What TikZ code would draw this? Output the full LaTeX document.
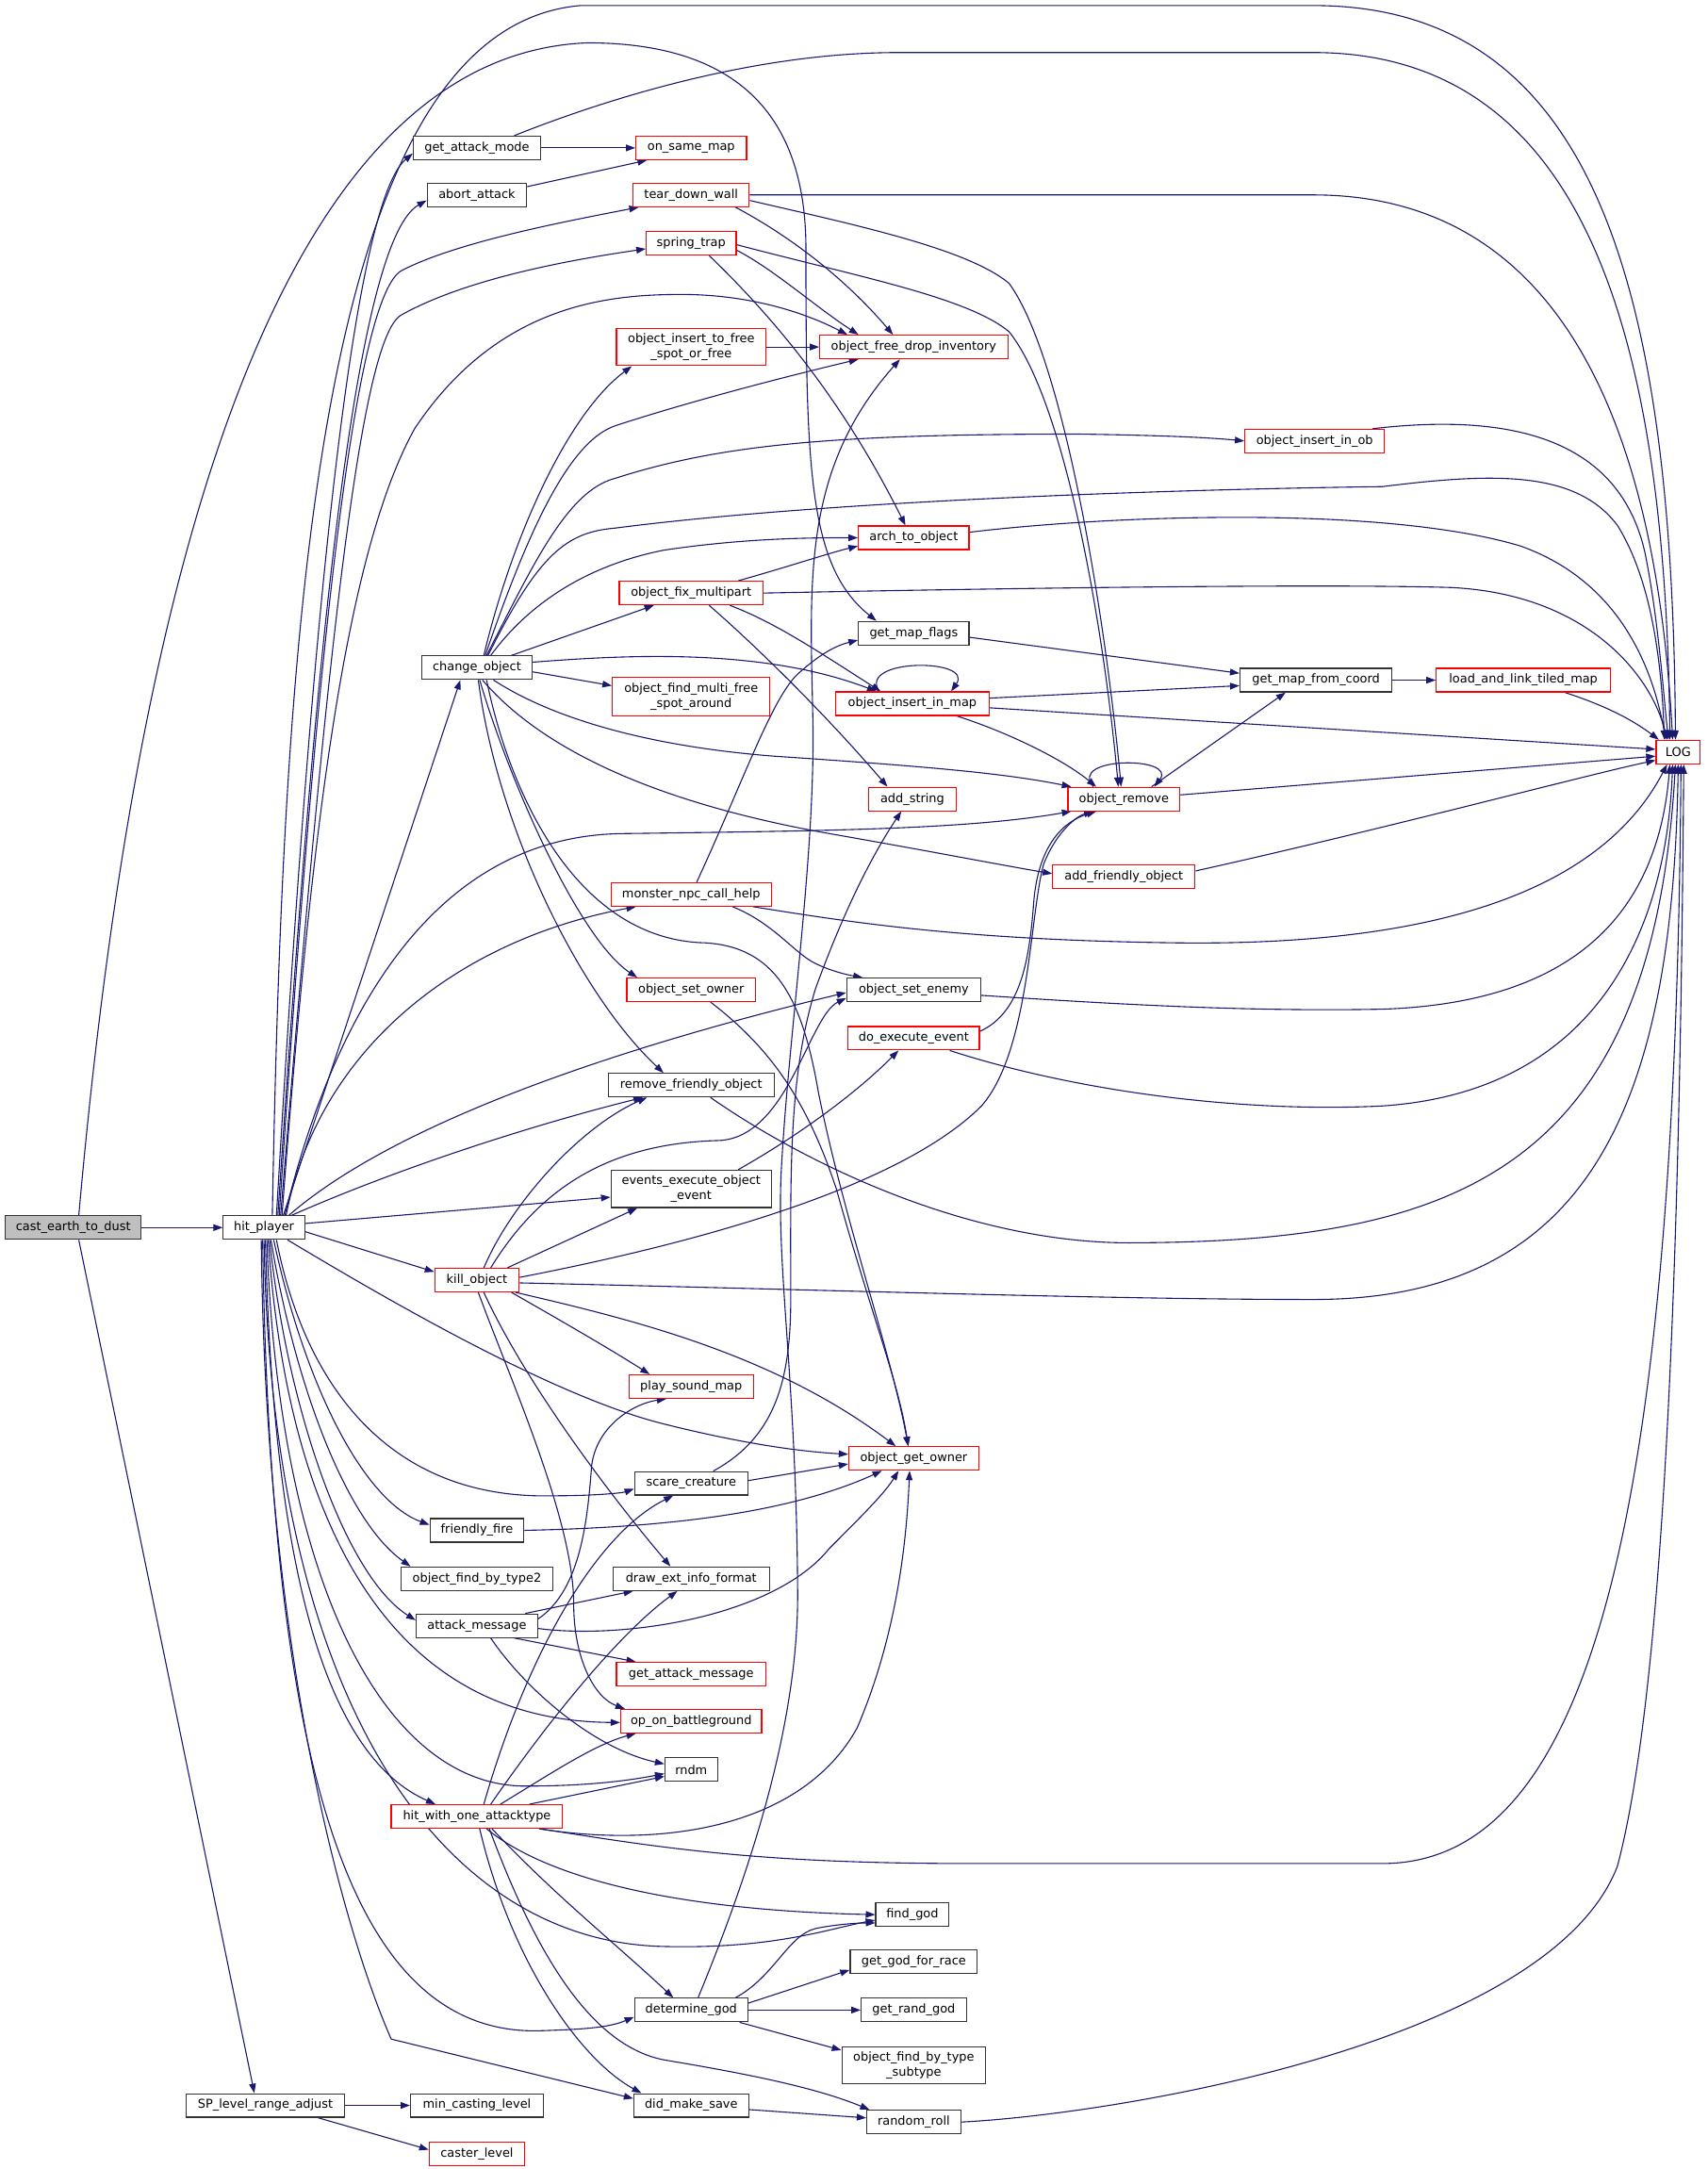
\documentclass[tikz,border=0pt]{standalone}
\usepackage{fontspec}
\usetikzlibrary{arrows.meta}
\newfontfamily\dvs{DejaVu Sans}
\newcommand\nodefont{\dvs\fontsize{8.8}{10.5}\selectfont}
\definecolor{eb}{HTML}{191970}
\definecolor{rdc}{HTML}{FF0000}
\definecolor{bkc}{HTML}{333333}
\definecolor{castgray}{HTML}{BFBFBF}
\pgfdeclarelayer{background}
\pgfsetlayers{background,main}
\tikzset{
  nd/.style={draw, fill=white, line width=0.8pt, minimum height=17pt, inner sep=0pt, font=\nodefont, align=center},
  rd/.style={nd, draw=rdc},
  bk/.style={nd, draw=bkc},
  e/.style={draw=eb, line width=0.75pt, -{Triangle[length=6.8pt,width=4.8pt]}}
}
\begin{document}
\begin{tikzpicture}[x=1pt,y=-1pt]
\useasboundingbox (0,0) rectangle (1235,1569);
% nodes
\node[bk,fill=castgray,minimum width=98pt] (cast) at (53,888) {cast\_earth\_to\_dust};
\node[bk,minimum width=59pt] (hit) at (191,888) {hit\_player};
\node[bk,minimum width=115pt] (splra) at (192,1523) {SP\_level\_range\_adjust};
\node[bk,minimum width=92pt] (gam) at (345,107) {get\_attack\_mode};
\node[rd,minimum width=80pt] (osm) at (500,107) {on\_same\_map};
\node[bk,minimum width=72pt] (abort) at (345,141) {abort\_attack};
\node[rd,minimum width=84pt] (tdw) at (500,141) {tear\_down\_wall};
\node[rd,minimum width=65pt] (spring) at (500,176) {spring\_trap};
\node[rd,minimum width=108pt,minimum height=27pt] (oitf) at (500,251) {object\_insert\_to\_free\\\_spot\_or\_free};
\node[rd,minimum width=136pt] (ofdi) at (661,251) {object\_free\_drop\_inventory};
\node[rd,minimum width=101pt] (oiio) at (951,319) {object\_insert\_in\_ob};
\node[rd,minimum width=80pt] (ato) at (661,389) {arch\_to\_object};
\node[rd,minimum width=104pt] (ofm) at (500,429) {object\_fix\_multipart};
\node[bk,minimum width=80pt] (gmf) at (661,458) {get\_map\_flags};
\node[bk,minimum width=80pt] (co) at (345,483) {change\_object};
\node[rd,minimum width=114pt,minimum height=28pt] (ofmfsa) at (500,504) {object\_find\_multi\_free\\\_spot\_around};
\node[rd,minimum width=111pt] (oiim) at (660,509) {object\_insert\_in\_map};
\node[bk,minimum width=110pt] (gmfc) at (952,492) {get\_map\_from\_coord};
\node[rd,minimum width=126pt] (laltm) at (1102,492) {load\_and\_link\_tiled\_map};
\node[rd,minimum width=32pt] (log) at (1214,544) {LOG};
\node[rd,minimum width=63pt] (adds) at (660,578) {add\_string};
\node[rd,minimum width=81pt] (orm) at (813,578) {object\_remove};
\node[rd,minimum width=103pt] (afo) at (813,634) {add\_friendly\_object};
\node[rd,minimum width=116pt] (mnch) at (500,647) {monster\_npc\_call\_help};
\node[rd,minimum width=93pt] (oso) at (500,716) {object\_set\_owner};
\node[bk,minimum width=97pt] (ose) at (661,716) {object\_set\_enemy};
\node[rd,minimum width=95pt] (dee) at (661,751) {do\_execute\_event};
\node[bk,minimum width=120pt] (rfo) at (500,785) {remove\_friendly\_object};
\node[bk,minimum width=116pt,minimum height=27pt] (eeoe) at (500,860) {events\_execute\_object\\\_event};
\node[rd,minimum width=61pt] (ko) at (345,926) {kill\_object};
\node[rd,minimum width=90pt] (psm) at (500,1003) {play\_sound\_map};
\node[rd,minimum width=94pt] (ogo) at (661,1055) {object\_get\_owner};
\node[bk,minimum width=82pt] (sc) at (500,1073) {scare\_creature};
\node[bk,minimum width=68pt] (ff) at (345,1107) {friendly\_fire};
\node[bk,minimum width=110pt] (ofbt2) at (345,1142) {object\_find\_by\_type2};
\node[bk,minimum width=113pt] (deif) at (500,1142) {draw\_ext\_info\_format};
\node[bk,minimum width=88pt] (am) at (345,1176) {attack\_message};
\node[rd,minimum width=108pt] (gatm) at (500,1211) {get\_attack\_message};
\node[rd,minimum width=102pt] (oob) at (500,1245) {op\_on\_battleground};
\node[bk,minimum width=38pt] (rndm) at (500,1280) {rndm};
\node[rd,minimum width=124pt] (hwoa) at (345,1314) {hit\_with\_one\_attacktype};
\node[bk,minimum width=53pt] (fg) at (660,1385) {find\_god};
\node[bk,minimum width=92pt] (ggfr) at (661,1419) {get\_god\_for\_race};
\node[bk,minimum width=82pt] (dg) at (500,1454) {determine\_god};
\node[bk,minimum width=76pt] (grg) at (661,1454) {get\_rand\_god};
\node[bk,minimum width=104pt,minimum height=27pt] (ofbts) at (661,1494) {object\_find\_by\_type\\\_subtype};
\node[bk,minimum width=83pt] (dms) at (500,1523) {did\_make\_save};
\node[bk,minimum width=96pt] (mcl) at (345,1523) {min\_casting\_level};
\node[bk,minimum width=68pt] (rr) at (661,1535) {random\_roll};
\node[rd,minimum width=69pt] (cl) at (345,1558) {caster\_level};

\begin{pgfonlayer}{background}
\fill[white] (0,0) rectangle (1235,1569);
% cast_earth_to_dust
\draw[e] (cast.east) -- (hit.west);
\draw[e] ([xshift=4pt]cast.south) -- ([xshift=-8pt]splra.north);
\draw[e] ([xshift=4pt]cast.north) .. controls (95,450) and (190,40) .. (425,31) .. controls (540,31) and (583,90) .. (583,180) .. controls (583,340) and (585,410) .. ([xshift=-27pt]gmf.north);
% hit_player
\draw[e] ([xshift=6pt]hit.north) .. controls (205,450) and (230,20) .. (420,4) -- (950,4) .. controls (1150,4) and (1210,200) .. ([xshift=-2pt]log.north);
\draw[e] ([xshift=9pt]hit.north) .. controls (222,500) and (252,150) .. ([yshift=-4pt]gam.west);
\draw[e] ([xshift=10pt]hit.north) .. controls (226,500) and (255,175) .. ([yshift=-4pt]abort.west);
\draw[e] ([xshift=11pt]hit.north) .. controls (232,420) and (260,215) .. (290,196) .. controls (330,175) and (410,160) .. ([xshift=-38pt]tdw.south);
\draw[e] ([xshift=12pt]hit.north) .. controls (238,450) and (262,245) .. (290,228) .. controls (340,200) and (420,187) .. ([yshift=-4pt]spring.west);
\draw[e] ([xshift=13pt]hit.north) .. controls (225,600) and (250,400) .. (300,310) .. controls (360,220) and (440,213) .. (493,213) .. controls (540,213) and (580,225) .. ([xshift=-48pt]ofdi.north);
\draw[e] ([xshift=14pt]hit.north) -- ([xshift=-12pt]co.south);
\draw[e] ([xshift=15pt]hit.north) .. controls (235,760) and (300,605) .. (450,603) .. controls (600,601) and (700,600) .. ([xshift=-38pt]orm.south);
\draw[e] ([xshift=16pt]hit.north) .. controls (230,760) and (330,680) .. ([xshift=-40pt]mnch.south);
\draw[e] ([xshift=18pt]hit.north) .. controls (300,800) and (500,745) .. ([yshift=-2pt]ose.west);
\draw[e] ([xshift=20pt]hit.north) .. controls (300,840) and (400,810) .. ([xshift=-35pt]rfo.south);
\draw[e] ([yshift=3pt]hit.east) -- ([yshift=-6pt]eeoe.west);
\draw[e] ([yshift=-3pt]hit.east) -- ([yshift=6pt]ko.west);
\draw[e] ([xshift=17pt]hit.south) .. controls (280,940) and (400,1010) .. (480,1030) .. controls (540,1045) and (580,1050) .. ([yshift=3pt]ogo.west);
\draw[e] ([xshift=9pt]hit.south) .. controls (220,1000) and (280,1085) .. (400,1082) .. controls (430,1082) and (450,1080) .. ([yshift=-4pt]sc.west);
\draw[e] ([xshift=7pt]hit.south) .. controls (220,1000) and (262,1085) .. ([yshift=4pt]ff.west);
\draw[e] ([xshift=5pt]hit.south) .. controls (213,1000) and (250,1100) .. ([xshift=-48pt]ofbt2.north);
\draw[e] ([xshift=4pt]hit.south) .. controls (208,1020) and (250,1140) .. ([yshift=4pt]am.west);
\draw[e] ([xshift=3pt]hit.south) .. controls (208,1100) and (280,1245) .. ([yshift=-1pt]oob.west);
\draw[e] ([xshift=2pt]hit.south) .. controls (202,1150) and (280,1292) .. (380,1292) .. controls (430,1292) and (460,1287) .. ([yshift=-3pt]rndm.west);
\draw[e] ([xshift=1pt]hit.south) .. controls (198,1150) and (240,1272) .. ([xshift=-30pt]hwoa.north);
\draw[e] (hit.south) .. controls (197,1250) and (330,1405) .. (480,1408) .. controls (560,1410) and (600,1395) .. ([yshift=-4pt]fg.west);
\draw[e] ([xshift=-1pt]hit.south) .. controls (196,1300) and (260,1472) .. (390,1469) .. controls (420,1468) and (440,1467) .. ([yshift=-5pt]dg.west);
\draw[e] ([xshift=-2pt]hit.south) .. controls (192,1200) and (250,1400) .. (283,1475) -- ([yshift=5pt]dms.west);
% get_attack_mode, abort_attack
\draw[e] ([xshift=27pt]gam.north) .. controls (430,75) and (540,38) .. (650,38) -- (950,38) .. controls (1150,38) and (1205,250) .. ([xshift=-6pt]log.north);
\draw[e] (gam.east) -- (osm.west);
\draw[e] ([yshift=6pt]abort.east) -- ([xshift=-32pt]osm.south);
% change_object
\draw[e] ([xshift=5pt]co.north) .. controls (370,390) and (410,300) .. ([xshift=-43pt]oitf.south);
\draw[e] ([xshift=6pt]co.north) .. controls (380,390) and (410,320) .. (445,308) .. controls (500,290) and (570,272) .. ([xshift=-40pt]ofdi.south);
\draw[e] ([xshift=7pt]co.north) .. controls (385,410) and (410,355) .. (445,346) .. controls (520,322) and (600,314) .. (780,314) .. controls (850,315) and (880,317) .. (oiio.west);
\draw[e] ([xshift=8pt]co.north) .. controls (390,400) and (410,385) .. (445,382) .. controls (600,362) and (850,354) .. (1000,352) .. controls (1080,342) and (1140,340) .. (1170,380) .. controls (1195,420) and (1202,480) .. ([xshift=-10pt]log.north);
\draw[e] ([xshift=10pt]co.north) .. controls (380,440) and (420,410) .. (480,398) .. controls (540,389) and (590,389) .. (ato.west);
\draw[e] ([xshift=25pt]co.north) -- ([xshift=-27pt]ofm.south);
\draw[e] ([yshift=4pt]co.east) .. controls (450,474) and (550,468) .. ([xshift=-26pt]oiim.north);
\draw[e] ([yshift=-3pt]co.east) -- ([yshift=8pt]ofmfsa.west);
\draw[e] ([xshift=12pt]co.south) .. controls (400,520) and (470,540) .. (560,547) .. controls (680,555) and (730,560) .. ([xshift=-38pt]orm.north);
\draw[e] ([xshift=4pt]co.south) .. controls (390,540) and (470,580) .. (600,603) .. controls (680,617) and (720,625) .. ([yshift=2pt]afo.west);
\draw[e] ([xshift=7pt]co.south) .. controls (370,580) and (420,680) .. (510,682) .. controls (560,685) and (580,720) .. (592,790) .. controls (610,880) and (645,980) .. ([xshift=-4pt]ogo.north);
\draw[e] ([xshift=2pt]co.south) .. controls (370,570) and (420,680) .. ([xshift=-39pt]oso.north);
\draw[e] ([xshift=1pt]co.south) .. controls (360,600) and (420,720) .. ([xshift=-20pt]rfo.north);
% object_fix_multipart
\draw[e] ([xshift=34pt]ofm.north) .. controls (570,410) and (600,400) .. ([yshift=-6pt]ato.west);
\draw[e] (ofm.east) .. controls (700,426) and (950,422) .. (1050,425) .. controls (1150,430) and (1195,490) .. ([xshift=-8pt]log.north);
\draw[e] ([xshift=28pt]ofm.south) .. controls (560,450) and (590,470) .. ([xshift=-23pt]oiim.north);
\draw[e] ([xshift=13pt]ofm.south) .. controls (550,470) and (600,520) .. ([xshift=-18pt]adds.north);
% tear_down_wall, spring_trap, insert_to_free
\draw[e] (tdw.east) -- (950,141) .. controls (1150,141) and (1200,350) .. ([xshift=-4pt]log.north);
\draw[e] ([yshift=-4pt]tdw.east) .. controls (620,163) and (700,180) .. (730,205) .. controls (770,260) and (800,450) .. ([xshift=-2pt]orm.north);
\draw[e] ([xshift=32pt]tdw.south) .. controls (570,170) and (610,200) .. ([xshift=-15pt]ofdi.north);
\draw[e] ([yshift=-1pt]spring.east) .. controls (620,200) and (700,215) .. (730,240) .. controls (770,290) and (798,450) .. ([xshift=-4pt]orm.north);
\draw[e] ([yshift=-5pt]spring.east) .. controls (560,195) and (590,222) .. ([xshift=-40pt]ofdi.north);
\draw[e] ([xshift=13pt]spring.south) .. controls (560,230) and (610,290) .. ([xshift=-6pt]ato.north);
\draw[e] (oitf.east) -- (ofdi.west);
% right part
\draw[e] ([xshift=42pt]oiio.north) .. controls (1080,300) and (1170,310) .. (1190,400) .. controls (1200,450) and (1203,500) .. ([xshift=-7pt]log.north);
\draw[e] ([yshift=4pt]ato.east) .. controls (800,373) and (1000,365) .. (1100,395) .. controls (1170,420) and (1195,480) .. ([xshift=-9pt]log.north);
\draw[e] ([yshift=-3pt]gmf.east) -- ([yshift=5pt]gmfc.west);
\draw[e] ([yshift=4pt]oiim.east) -- ([yshift=-4pt]gmfc.west);
\draw[e] ([yshift=-3pt]oiim.east) -- ([yshift=2pt]log.west);
\draw[e] ([xshift=32pt]oiim.south) .. controls (730,530) and (770,550) .. ([xshift=-20pt]orm.north);
\draw[e] ([xshift=-24pt]oiim.north) .. controls (620,476) and (705,476) .. ([xshift=28pt]oiim.north);
\draw[e] (gmfc.east) -- (laltm.west);
\draw[e] ([xshift=30pt]laltm.south) .. controls (1160,510) and (1180,520) .. ([xshift=-14pt]log.north);
\draw[e] ([xshift=20pt]orm.north) -- ([xshift=-22pt]gmfc.south);
\draw[e] ([xshift=-22pt]orm.north) .. controls (772,547) and (852,547) .. ([xshift=22pt]orm.north);
\draw[e] ([yshift=3pt]orm.east) -- ([yshift=-3pt]log.west);
\draw[e] ([yshift=4pt]afo.east) .. controls (1000,600) and (1150,560) .. ([yshift=-6pt]log.west);
% monster_npc_call_help etc.
\draw[e] ([xshift=4pt]mnch.north) .. controls (540,560) and (560,500) .. (580,485) .. controls (595,472) and (605,467) .. ([yshift=-5pt]gmf.west);
\draw[e] ([xshift=30pt]mnch.south) .. controls (560,668) and (575,690) .. (590,697) .. controls (600,702) and (612,705) .. ([xshift=-37pt]ose.north);
\draw[e] ([xshift=45pt]mnch.south) .. controls (620,668) and (700,680) .. (850,682) .. controls (1000,684) and (1150,660) .. ([xshift=-8pt]log.south);
\draw[e] ([xshift=14pt]oso.south) .. controls (560,760) and (585,800) .. (605,860) .. controls (630,950) and (650,1000) .. ([xshift=-4pt]ogo.north);
\draw[e] ([yshift=-4pt]ose.east) .. controls (800,726) and (900,732) .. (1000,730) .. controls (1150,725) and (1200,650) .. ([xshift=-6pt]log.south);
\draw[e] ([yshift=5pt]dee.east) .. controls (740,732) and (745,690) .. (748,650) .. controls (752,610) and (770,594) .. ([xshift=-20pt]orm.south);
\draw[e] ([xshift=26pt]dee.south) .. controls (780,790) and (900,805) .. (1000,800) .. controls (1150,790) and (1205,680) .. ([xshift=-4pt]log.south);
\draw[e] ([xshift=14pt]rfo.south) .. controls (580,840) and (700,900) .. (820,899) .. controls (1050,898) and (1195,850) .. ([xshift=-2pt]log.south);
\draw[e] ([xshift=34pt]eeoe.north) .. controls (580,820) and (620,790) .. ([xshift=-11pt]dee.south);
% kill_object
\draw[e] ([xshift=5pt]ko.north) .. controls (370,870) and (420,815) .. ([xshift=-32pt]rfo.south);
\draw[e] ([xshift=10pt]ko.north) .. controls (390,860) and (440,827) .. (520,825) .. controls (570,823) and (585,735) .. ([yshift=-6pt]ose.west);
\draw[e] ([xshift=22pt]ko.north) -- ([xshift=-39pt]eeoe.south);
\draw[e] ([yshift=2pt]ko.east) .. controls (500,900) and (650,860) .. (710,800) .. controls (745,760) and (745,660) .. (755,625) .. controls (765,600) and (780,590) .. ([xshift=-22pt]orm.south);
\draw[e] ([yshift=-2pt]ko.east) .. controls (600,933) and (800,940) .. (950,940) .. controls (1150,940) and (1210,800) .. (log.south);
\draw[e] ([xshift=25pt]ko.south) .. controls (400,952) and (440,975) .. ([xshift=-30pt]psm.north);
\draw[e] ([xshift=28pt]ko.south) .. controls (460,955) and (560,980) .. ([xshift=-13pt]ogo.north);
\draw[e] ([xshift=5pt]ko.south) .. controls (380,1000) and (440,1080) .. ([xshift=-15pt]deif.north);
\draw[e] ([xshift=1pt]ko.south) .. controls (370,1000) and (415,1100) .. (415,1160) .. controls (415,1200) and (430,1228) .. ([xshift=-48pt]oob.north);
% attack_message
\draw[e] ([yshift=5pt]am.east) .. controls (420,1150) and (425,1100) .. (428,1060) .. controls (432,1030) and (460,1015) .. ([xshift=-18pt]psm.south);
\draw[e] ([xshift=35pt]am.north) -- ([xshift=-42pt]deif.south);
\draw[e] ([yshift=-2pt]am.east) .. controls (450,1186) and (560,1170) .. (600,1120) .. controls (625,1095) and (640,1080) .. ([xshift=-11pt]ogo.south);
\draw[e] ([xshift=27pt]am.south) -- ([xshift=-40pt]gatm.north);
\draw[e] ([xshift=10pt]am.south) .. controls (380,1222) and (430,1265) .. ([yshift=4pt]rndm.west);
% hit_with_one_attacktype
\draw[e] ([xshift=5pt]hwoa.north) .. controls (380,1200) and (430,1110) .. ([xshift=-13pt]sc.south);
\draw[e] ([xshift=10pt]hwoa.north) .. controls (400,1240) and (450,1180) .. ([xshift=-10pt]deif.south);
\draw[e] ([xshift=17pt]hwoa.north) .. controls (400,1282) and (430,1262) .. ([xshift=-40pt]oob.south);
\draw[e] ([xshift=38pt]hwoa.north) -- ([yshift=-5pt]rndm.west);
\draw[e] ([xshift=45pt]hwoa.south) .. controls (480,1337) and (580,1322) .. (620,1250) .. controls (650,1180) and (656,1110) .. ([xshift=-3pt]ogo.south);
\draw[e] ([xshift=46pt]hwoa.south) .. controls (480,1337) and (550,1348) .. (700,1348) -- (1000,1348) .. controls (1150,1348) and (1212,1100) .. ([xshift=2pt]log.south);
\draw[e] ([xshift=7pt]hwoa.south) .. controls (400,1362) and (500,1382) .. (fg.west);
\draw[e] ([xshift=11pt]hwoa.south) .. controls (400,1370) and (450,1410) .. ([xshift=-13pt]dg.north);
\draw[e] ([xshift=2pt]hwoa.south) .. controls (370,1420) and (420,1490) .. ([xshift=-36pt]dms.north);
\draw[e] ([xshift=9pt]hwoa.south) .. controls (390,1420) and (430,1480) .. (480,1490) .. controls (540,1500) and (590,1510) .. ([xshift=-32pt]rr.north);
% determine_god
\draw[e] ([xshift=32pt]dg.north) .. controls (560,1430) and (570,1400) .. (590,1395) .. controls (605,1392) and (620,1391) .. ([yshift=-6pt]fg.west);
\draw[e] ([yshift=5pt]dg.east) -- ([yshift=-6pt]ggfr.west);
\draw[e] (dg.east) -- (grg.west);
\draw[e] ([xshift=35pt]dg.south) -- ([yshift=11pt]ofbts.west);
\draw[e] ([xshift=5pt]dg.north) .. controls (540,1360) and (578,1250) .. (577,1150) .. controls (576,1000) and (562,920) .. (565,850) .. controls (570,750) and (590,620) .. (588,520) .. controls (586,420) and (580,340) .. ([xshift=-10pt]ofdi.south);
% scare_creature, friendly_fire
\draw[e] ([xshift=16pt]sc.north) .. controls (560,1040) and (572,1000) .. (572,940) .. controls (572,850) and (570,780) .. (590,715) .. controls (610,660) and (630,620) .. ([xshift=-8pt]adds.south);
\draw[e] ([yshift=2pt]sc.east) -- ([yshift=-4pt]ogo.west);
\draw[e] (ff.east) .. controls (480,1105) and (570,1095) .. ([xshift=-23pt]ogo.south);
% bottom
\draw[e] ([yshift=-3pt]dms.east) -- ([yshift=3pt]rr.west);
\draw[e] (rr.east) .. controls (800,1530) and (1120,1480) .. (1170,1350) .. controls (1210,1200) and (1216,800) .. ([xshift=4pt]log.south);
\draw[e] (splra.east) -- (mcl.west);
\draw[e] ([xshift=38pt]splra.south) -- ([yshift=3pt]cl.west);
\end{pgfonlayer}
\end{tikzpicture}
\end{document}
